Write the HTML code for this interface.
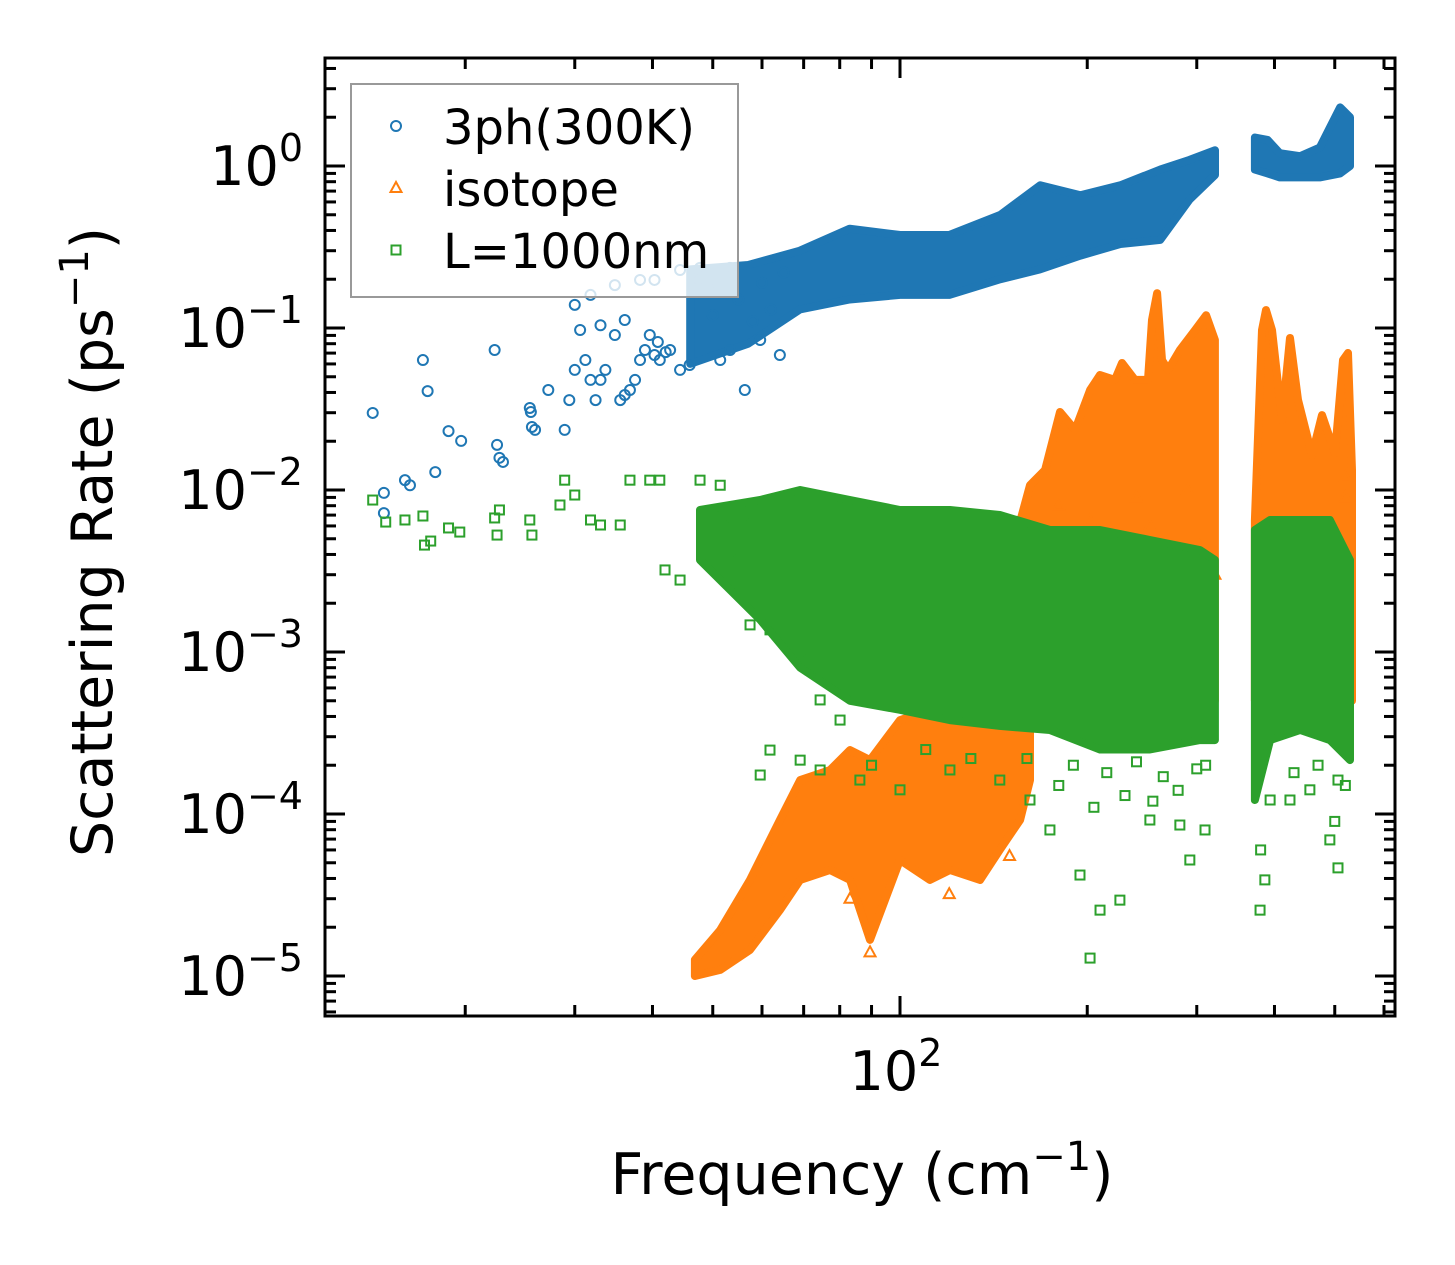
<!DOCTYPE html>
<html><head><meta charset="utf-8">
<style>
html,body{margin:0;padding:0;background:#fff;}
svg{display:block;}
text{font-family:"DejaVu Sans","Liberation Sans",sans-serif;fill:#000;}
</style></head>
<body>
<svg id="chart" width="1455" height="1265" viewBox="0 0 1455 1265" xmlns="http://www.w3.org/2000/svg">
<g id="plot"></g>
</svg>
<script>
// ---- data (frequency in cm^-1, rate in ps^-1) ----
const blueBandFreq = [46,57,69,83,100,120,145,168,195,226,262,292,321];
const blueBandUpper = [0.23,0.245,0.30,0.41,0.375,0.375,0.50,0.76,0.66,0.76,0.95,1.09,1.25];
const blueBandLower = [0.06,0.08,0.13,0.15,0.16,0.16,0.20,0.23,0.28,0.33,0.35,0.62,0.88];
const blueBand2Freq = [372,390,408,440,473,510,529];
const blueBand2Upper = [1.5,1.45,1.2,1.15,1.3,2.3,2.0];
const blueBand2Lower = [0.95,0.9,0.85,0.85,0.85,0.9,1.0];
const bluePoints = [[14.2,0.0299],[14.8,0.0096],[14.8,0.0072],[16.0,0.0115],[16.3,0.0107],[17.1,0.0634],[17.4,0.0408],[17.9,0.0129],[18.8,0.0231],[19.7,0.0201],[22.3,0.0731],[22.5,0.019],[22.7,0.0158],[23.0,0.0149],[25.4,0.0321],[25.5,0.0303],[25.6,0.0245],[25.9,0.0235],[27.2,0.0414],[28.9,0.0235],[29.4,0.0359],[30.0,0.0551],[30.6,0.0972],[31.2,0.0634],[31.8,0.0478],[32.4,0.0359],[33.0,0.0478],[33.6,0.0551],[34.8,0.0905],[35.5,0.0359],[36.1,0.0386],[36.8,0.0414],[37.5,0.0478],[38.2,0.0634],[38.9,0.0731],[39.6,0.0905],[40.3,0.0681],[41.1,0.0634],[42.7,0.0731],[44.3,0.0551],[45.9,0.0591],[47.7,0.198],[49.5,0.172],[51.4,0.0634],[53.3,0.0731],[56.3,0.0414],[59.6,0.0843],[64.1,0.0681],[30.0,0.139],[31.8,0.160],[34.8,0.184],[38.2,0.198],[40.3,0.198],[44.3,0.228],[47.7,0.235],[53.3,0.235],[33.0,0.104],[36.1,0.112],[40.8,0.082],[42.0,0.071],[50,0.12],[55,0.15],[60,0.19],[65,0.22],[58,0.11],[62,0.13]];

const orangeBandAFreq = [46.8,51.4,57.4,64.1,69.1,77.2,83.1,89.5,100,111.7,120.3,134.5,144.7,156,161.8];
const orangeBandAUpper = [1.26e-5,1.92e-5,3.92e-5,9.18e-5,1.62e-4,1.87e-4,2.48e-4,2.15e-4,3.8e-4,4.39e-4,5.82e-4,5.06e-4,6.71e-4,8.93e-4,2.09e-3];
const orangeBandALower = [1e-5,1.09e-5,1.45e-5,2.55e-5,3.92e-5,4.51e-5,3.92e-5,1.67e-5,5.2e-5,3.92e-5,4.51e-5,3.92e-5,6e-5,9.18e-5,1.62e-4];
const orangeBandBFreq = [153.1,161.8,171.1,180.8,191.2,202.1,209.7,221.6,227.5,238.7,250.4,254.2,259.0,263.8,269.8,281.8,298.1,310.5,320.8];
const orangeBandBUpper = [4.91e-3,0.0107,0.0133,0.0303,0.0235,0.0414,0.0513,0.0478,0.0608,0.0478,0.0478,0.112,0.164,0.0634,0.0551,0.0731,0.0972,0.12,0.0843];
const orangeBandBLower = [5e-4,5e-4,5e-4,5e-4,5e-4,5e-4,5e-4,5e-4,5e-4,5e-4,5e-4,5e-4,5e-4,5e-4,5e-4,5e-4,5e-4,5e-4,5e-4];
const orangeBandCFreq = [372,381.9,387.6,396.3,411.3,423.6,436.4,459.6,477.0,500.5,515.5,525.2,533.0];
const orangeBandCUpper = [6.53e-3,0.0972,0.129,0.0972,0.027,0.0868,0.036,0.0164,0.029,0.0169,0.0634,0.0701,0.0133];
const orangeBandCLower = [5e-4,5e-4,5e-4,5e-4,5e-4,5e-4,5e-4,5e-4,5e-4,5e-4,5e-4,5e-4,5e-4];
const orangePoints = [[89.5,1.4e-5],[83.1,3e-5],[161.8,5.66e-3],[201.9,6.5e-3],[252.2,6e-3],[303.4,4.5e-3],[320.8,3e-3],[120,3.2e-5],[150,5.5e-5],[180,8e-3],[240,9e-3],[290,0.01],[520,0.012],[520,0.009]];

const greenBandFreq = [47.7,59.6,69.1,83.1,100,120.3,144.7,174.2,209.7,252.2,303.4,320.8];
const greenBandUpper = [7.53e-3,8.67e-3,0.01,8.67e-3,7.53e-3,7.53e-3,7.01e-3,5.66e-3,5.66e-3,4.91e-3,4.26e-3,3.70e-3];
const greenBandLower = [3.7e-3,1.58e-3,8e-4,5e-4,4.4e-4,3.8e-4,3.5e-4,3.3e-4,2.5e-4,2.5e-4,2.86e-4,2.86e-4];
const greenBand2Freq = [372,393.6,440,491,529];
const greenBand2Upper = [5.66e-3,6.53e-3,6.53e-3,6.53e-3,3.7e-3];
const greenBand2Lower = [1.22e-4,2.86e-4,3.3e-4,2.86e-4,2.15e-4];
const greenPoints = [[14.2,8.67e-3],[14.9,6.34e-3],[16.0,6.53e-3],[17.1,6.91e-3],[17.2,4.57e-3],[17.6,4.84e-3],[18.8,5.83e-3],[19.6,5.5e-3],[22.3,6.72e-3],[22.5,5.27e-3],[22.7,7.53e-3],[25.4,6.53e-3],[25.6,5.27e-3],[28.4,8.08e-3],[28.9,0.0115],[30.0,9.31e-3],[31.8,6.53e-3],[33.0,6.08e-3],[35.5,6.08e-3],[36.8,0.0115],[39.6,0.0115],[41.1,0.0115],[41.9,3.21e-3],[44.3,2.78e-3],[47.7,0.0115],[51.4,0.0107],[53.3,3.7e-3],[55.3,2.41e-3],[57.4,1.47e-3],[59.6,1.82e-3],[61.8,1.37e-3],[69.1,8.93e-4],[71.7,7.74e-4],[74.4,5.06e-4],[80.1,3.8e-4],[59.6,1.74e-4],[61.8,2.48e-4],[69.1,2.15e-4],[74.4,1.87e-4],[86.2,1.62e-4],[100,1.41e-4],[120.3,1.87e-4],[144.7,1.62e-4],[161.8,1.22e-4],[174.2,7.97e-5],[194.7,4.2e-5],[209.7,2.55e-5],[225.7,2.94e-5],[252.2,9.18e-5],[281.8,8.55e-5],[292.4,5.2e-5],[309.3,7.97e-5],[379.2,2.55e-5],[386,3.92e-5],[491,6.92e-5],[506,4.65e-5],[506,1.62e-4],[393.6,1.22e-4],[423.6,1.22e-4],[456,1.41e-4],[202.1,1.29e-5],[90,2e-4],[110,2.5e-4],[130,2.2e-4],[180,1.5e-4],[230,1.3e-4],[280,1.4e-4],[310,2e-4],[380,6e-5],[500,9e-5],[48,6.5e-3],[52,6.8e-3],[56,6.2e-3],[160,2.2e-4],[190,2.0e-4],[215,1.8e-4],[240,2.1e-4],[265,1.7e-4],[300,1.9e-4],[205,1.1e-4],[255,1.2e-4],[430,1.8e-4],[470,2.0e-4],[520,1.5e-4]];

const xMajorTicks = [100];
const xMinorTicks = [20,30,40,50,60,70,80,90,200,300,400,500,600];
const yMajorExps = [0,-1,-2,-3,-4,-5];
const yTickLabels = ["0","\u22121","\u22122","\u22123","\u22124","\u22125"];

// ---- axes ----
const L=325,R=1395,T=58,B=1016;
const X0=900, PXD=622;
const Y0=166, PYD=162;
function xs(f){return X0+(Math.log10(f)-2)*PXD;}
function ys(r){return Y0-Math.log10(r)*PYD;}

const NS="http://www.w3.org/2000/svg";
const svg=document.getElementById('chart');
const plot=document.getElementById('plot');
function mk(tag,attrs,parent){const e=document.createElementNS(NS,tag);for(const k in attrs)e.setAttribute(k,attrs[k]);(parent||svg).appendChild(e);return e;}

const defs=mk('defs',{});
const cp=mk('clipPath',{id:'clip'},defs);
mk('rect',{x:L,y:T,width:R-L,height:B-T},cp);
plot.setAttribute('clip-path','url(#clip)');

const BLUE='#1f77b4',ORANGE='#ff7f0e',GREEN='#2ca02c';

function band(freq,up,lo,color,name){
  let d='';
  freq.forEach((f,i)=>{d+=(i?'L':'M')+xs(f).toFixed(1)+','+ys(up[i]).toFixed(1);});
  for(let i=freq.length-1;i>=0;i--){d+='L'+xs(freq[i]).toFixed(1)+','+ys(lo[i]).toFixed(1);}
  d+='Z';
  const p=mk('path',{d:d,fill:color,stroke:color,'stroke-width':8,'stroke-linejoin':'round'},plot);
  
  
}
function marker(type,x,y,color,parent){
  let e;
  if(type==='o') e=mk('circle',{cx:x,cy:y,r:5,fill:'none',stroke:color,'stroke-width':2},parent);
  else if(type==='^') e=mk('polygon',{points:`${x},${y-6} ${x-5.5},${y+4} ${x+5.5},${y+4}`,fill:'none',stroke:color,'stroke-width':2},parent);
  else e=mk('rect',{x:x-4.5,y:y-4.5,width:9,height:9,fill:'none',stroke:color,'stroke-width':2},parent);
  return e;
}

band(blueBandFreq,blueBandUpper,blueBandLower,BLUE,'3ph-band');
band(blueBand2Freq,blueBand2Upper,blueBand2Lower,BLUE,'3ph-band-high');
bluePoints.forEach(p=>{const m=marker('o',xs(p[0]),ys(p[1]),BLUE,plot);

});
band(orangeBandAFreq,orangeBandAUpper,orangeBandALower,ORANGE,'isotope-band-low');
band(orangeBandBFreq,orangeBandBUpper,orangeBandBLower,ORANGE,'isotope-band-mid');
band(orangeBandCFreq,orangeBandCUpper,orangeBandCLower,ORANGE,'isotope-band-high');
orangePoints.forEach(p=>{const m=marker('^',xs(p[0]),ys(p[1]),ORANGE,plot);

});
band(greenBandFreq,greenBandUpper,greenBandLower,GREEN,'boundary-band');
band(greenBand2Freq,greenBand2Upper,greenBand2Lower,GREEN,'boundary-band-high');
greenPoints.forEach(p=>{const m=marker('s',xs(p[0]),ys(p[1]),GREEN,plot);

});

const tg=mk('g',{stroke:'#000','stroke-width':3});


xMajorTicks.forEach(f=>{const x=xs(f);mk('line',{x1:x,x2:x,y1:B,y2:B-20},tg);mk('line',{x1:x,x2:x,y1:T,y2:T+20},tg);});
xMinorTicks.forEach(f=>{const x=xs(f);if(x<L||x>R)return;mk('line',{x1:x,x2:x,y1:B,y2:B-11},tg);mk('line',{x1:x,x2:x,y1:T,y2:T+11},tg);});
for(let e=-6;e<=1;e++){
  for(let m=1;m<=9;m++){
    const y=ys(m*Math.pow(10,e));
    if(y<T||y>B)continue;
    const len=m===1?20:11;
    mk('line',{x1:L,x2:L+len,y1:y,y2:y},tg);
    mk('line',{x1:R,x2:R-len,y1:y,y2:y},tg);
  }
}
const fr=mk('rect',{x:L,y:T,width:R-L,height:B-T,fill:'none',stroke:'#000','stroke-width':3});



yMajorExps.forEach((e,i)=>{
  const y=ys(Math.pow(10,e));
  const t=mk('text',{x:303,y:y+19,'text-anchor':'end','font-size':54});
  
  
  t.innerHTML='10<tspan dy="-24" font-size="38">'+yTickLabels[i]+'</tspan>';
});
xMajorTicks.forEach(f=>{
  const t=mk('text',{x:xs(f)-4,y:1090,'text-anchor':'middle','font-size':54});
  
  
  t.innerHTML='10<tspan dy="-24" font-size="38">2</tspan>';
});
const xt=mk('text',{x:862,y:1194,'text-anchor':'middle','font-size':57});


xt.innerHTML='Frequency (cm<tspan dy="-24" font-size="40">\u22121</tspan><tspan dy="24">)</tspan>';
const yt=mk('text',{x:0,y:0,'text-anchor':'middle','font-size':57,transform:'translate(112,542) rotate(-90)'});


yt.innerHTML='Scattering Rate (ps<tspan dy="-24" font-size="40">\u22121</tspan><tspan dy="24">)</tspan>';

const lg=mk('g',{});


mk('rect',{x:351,y:84,width:387,height:213,fill:'#fff','fill-opacity':0.8,stroke:'#999','stroke-width':2},lg);
const legendLabels=['3ph(300K)','isotope','L=1000nm'];
const legendTypes=['o','^','s'];
const legendColors=[BLUE,ORANGE,GREEN];
const legendNames=['legend-entry-3ph','legend-entry-isotope','legend-entry-boundary'];
legendLabels.forEach((lab,i)=>{
  const cy=126+i*62;
  const g=mk('g',{},lg);
  
  
  marker(legendTypes[i],396,cy,legendColors[i],g);
  const t=mk('text',{x:443,y:cy+18,'font-size':48},g);
  t.textContent=lab;
});
</script>
</body></html>
